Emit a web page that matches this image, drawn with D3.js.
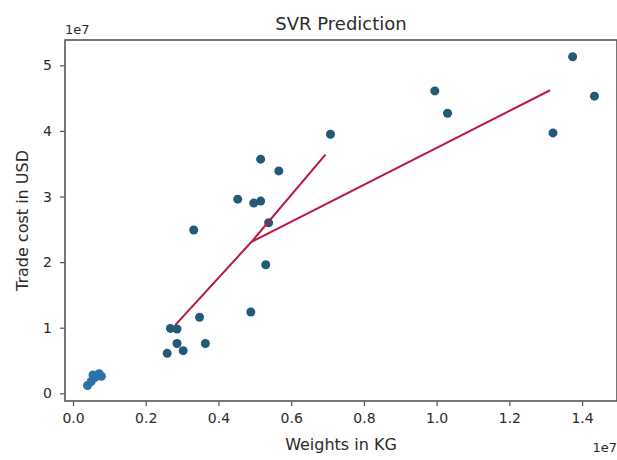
<!DOCTYPE html>
<html>
<head>
<meta charset="utf-8">
<script src="https://cdn.jsdelivr.net/npm/d3@7"></script>
<style>
  html, body { margin: 0; padding: 0; background: #fff; }
  svg text { font-family: "DejaVu Sans", sans-serif; fill: #2a2a2a; }
</style>
</head>
<body>
<svg id="chart" width="617" height="460"></svg>
<script>
// Observed shipments: weight (×1e7 kg) and trade cost (×1e7 USD)
const weights = [0.040, 0.050, 0.060, 0.072, 0.078, 0.055,
                 0.259, 0.268, 0.286, 0.286, 0.303, 0.348, 0.364,
                 0.332, 0.489, 0.530, 0.538, 0.453, 0.497, 0.516, 0.516, 0.566, 0.708,
                 0.995, 1.030, 1.320, 1.374, 1.434];
const costs   = [0.12, 0.18, 0.24, 0.30, 0.26, 0.28,
                 0.61, 0.99, 0.76, 0.98, 0.65, 1.16, 0.76,
                 2.49, 1.24, 1.96, 2.60, 2.96, 2.90, 2.93, 3.57, 3.39, 3.95,
                 4.61, 4.27, 3.97, 5.13, 4.53];

// SVR fitted values, in the order the model output was plotted
const predWeights = [0.281, 0.491, 0.693, 0.491, 1.312];
const predCosts   = [1.04, 2.31, 3.63, 2.31, 4.62];

const xTicks = [0.0, 0.2, 0.4, 0.6, 0.8, 1.0, 1.2, 1.4];
const yTicks = [0, 1, 2, 3, 4, 5];

const svg = d3.select("#chart");
const plotLeft = 65, plotRight = 617, plotTop = 40, plotBottom = 401;

const x = d3.scaleLinear().domain([-0.022, 1.496]).range([plotLeft, plotRight]);
const y = d3.scaleLinear().domain([-0.117, 5.386]).range([plotBottom, plotTop]);

// scatter of observed points
svg.append("g")
  .selectAll("circle")
  .data(weights.map((w, i) => [w, costs[i]]))
  .join("circle")
  .attr("cx", d => x(d[0]))
  .attr("cy", d => y(d[1]))
  .attr("r", 4.5)
  .attr("fill", d => d[0] < 0.1 ? "#2a72a8" : "#225a78");

// SVR prediction line
const line = d3.line().x(d => x(d[0])).y(d => y(d[1]));
svg.append("path")
  .datum(predWeights.map((w, i) => [w, predCosts[i]]))
  .attr("d", line)
  .attr("fill", "none")
  .attr("stroke", "#b8193f")
  .attr("stroke-width", 2)
  .attr("stroke-linejoin", "round");

// axes
const xAxis = d3.axisBottom(x).tickValues(xTicks).tickFormat(d3.format(".1f")).tickSize(5).tickPadding(7);
const yAxis = d3.axisLeft(y).tickValues(yTicks).tickFormat(d3.format("d")).tickSize(5).tickPadding(8);

const gx = svg.append("g").attr("transform", `translate(0,${plotBottom})`).call(xAxis);
const gy = svg.append("g").attr("transform", `translate(${plotLeft},0)`).call(yAxis);
[gx, gy].forEach(g => {
  g.select(".domain").remove();
  g.selectAll(".tick line").attr("stroke", "#555").attr("stroke-width", 1.2);
  g.selectAll(".tick text").style("font-size", "14px").attr("fill", "#333");
});

// frame
svg.append("rect")
  .attr("x", plotLeft).attr("y", plotTop)
  .attr("width", plotRight - plotLeft).attr("height", plotBottom - plotTop)
  .attr("fill", "none").attr("stroke", "#555").attr("stroke-width", 1.6);

// offset labels
svg.append("text").attr("x", plotLeft).attr("y", 34).style("font-size", "13px").text("1e7");
svg.append("text").attr("x", plotRight).attr("y", 452).attr("text-anchor", "end").style("font-size", "13px").text("1e7");

// titles
svg.append("text").attr("x", (plotLeft + plotRight) / 2).attr("y", 30).attr("text-anchor", "middle")
  .style("font-size", "18px").text("SVR Prediction");
svg.append("text").attr("x", (plotLeft + plotRight) / 2).attr("y", 450).attr("text-anchor", "middle")
  .style("font-size", "16px").text("Weights in KG");
svg.append("text").attr("transform", `translate(28,${(plotTop + plotBottom) / 2}) rotate(-90)`)
  .attr("text-anchor", "middle").style("font-size", "16px").text("Trade cost in USD");
</script>
</body>
</html>
